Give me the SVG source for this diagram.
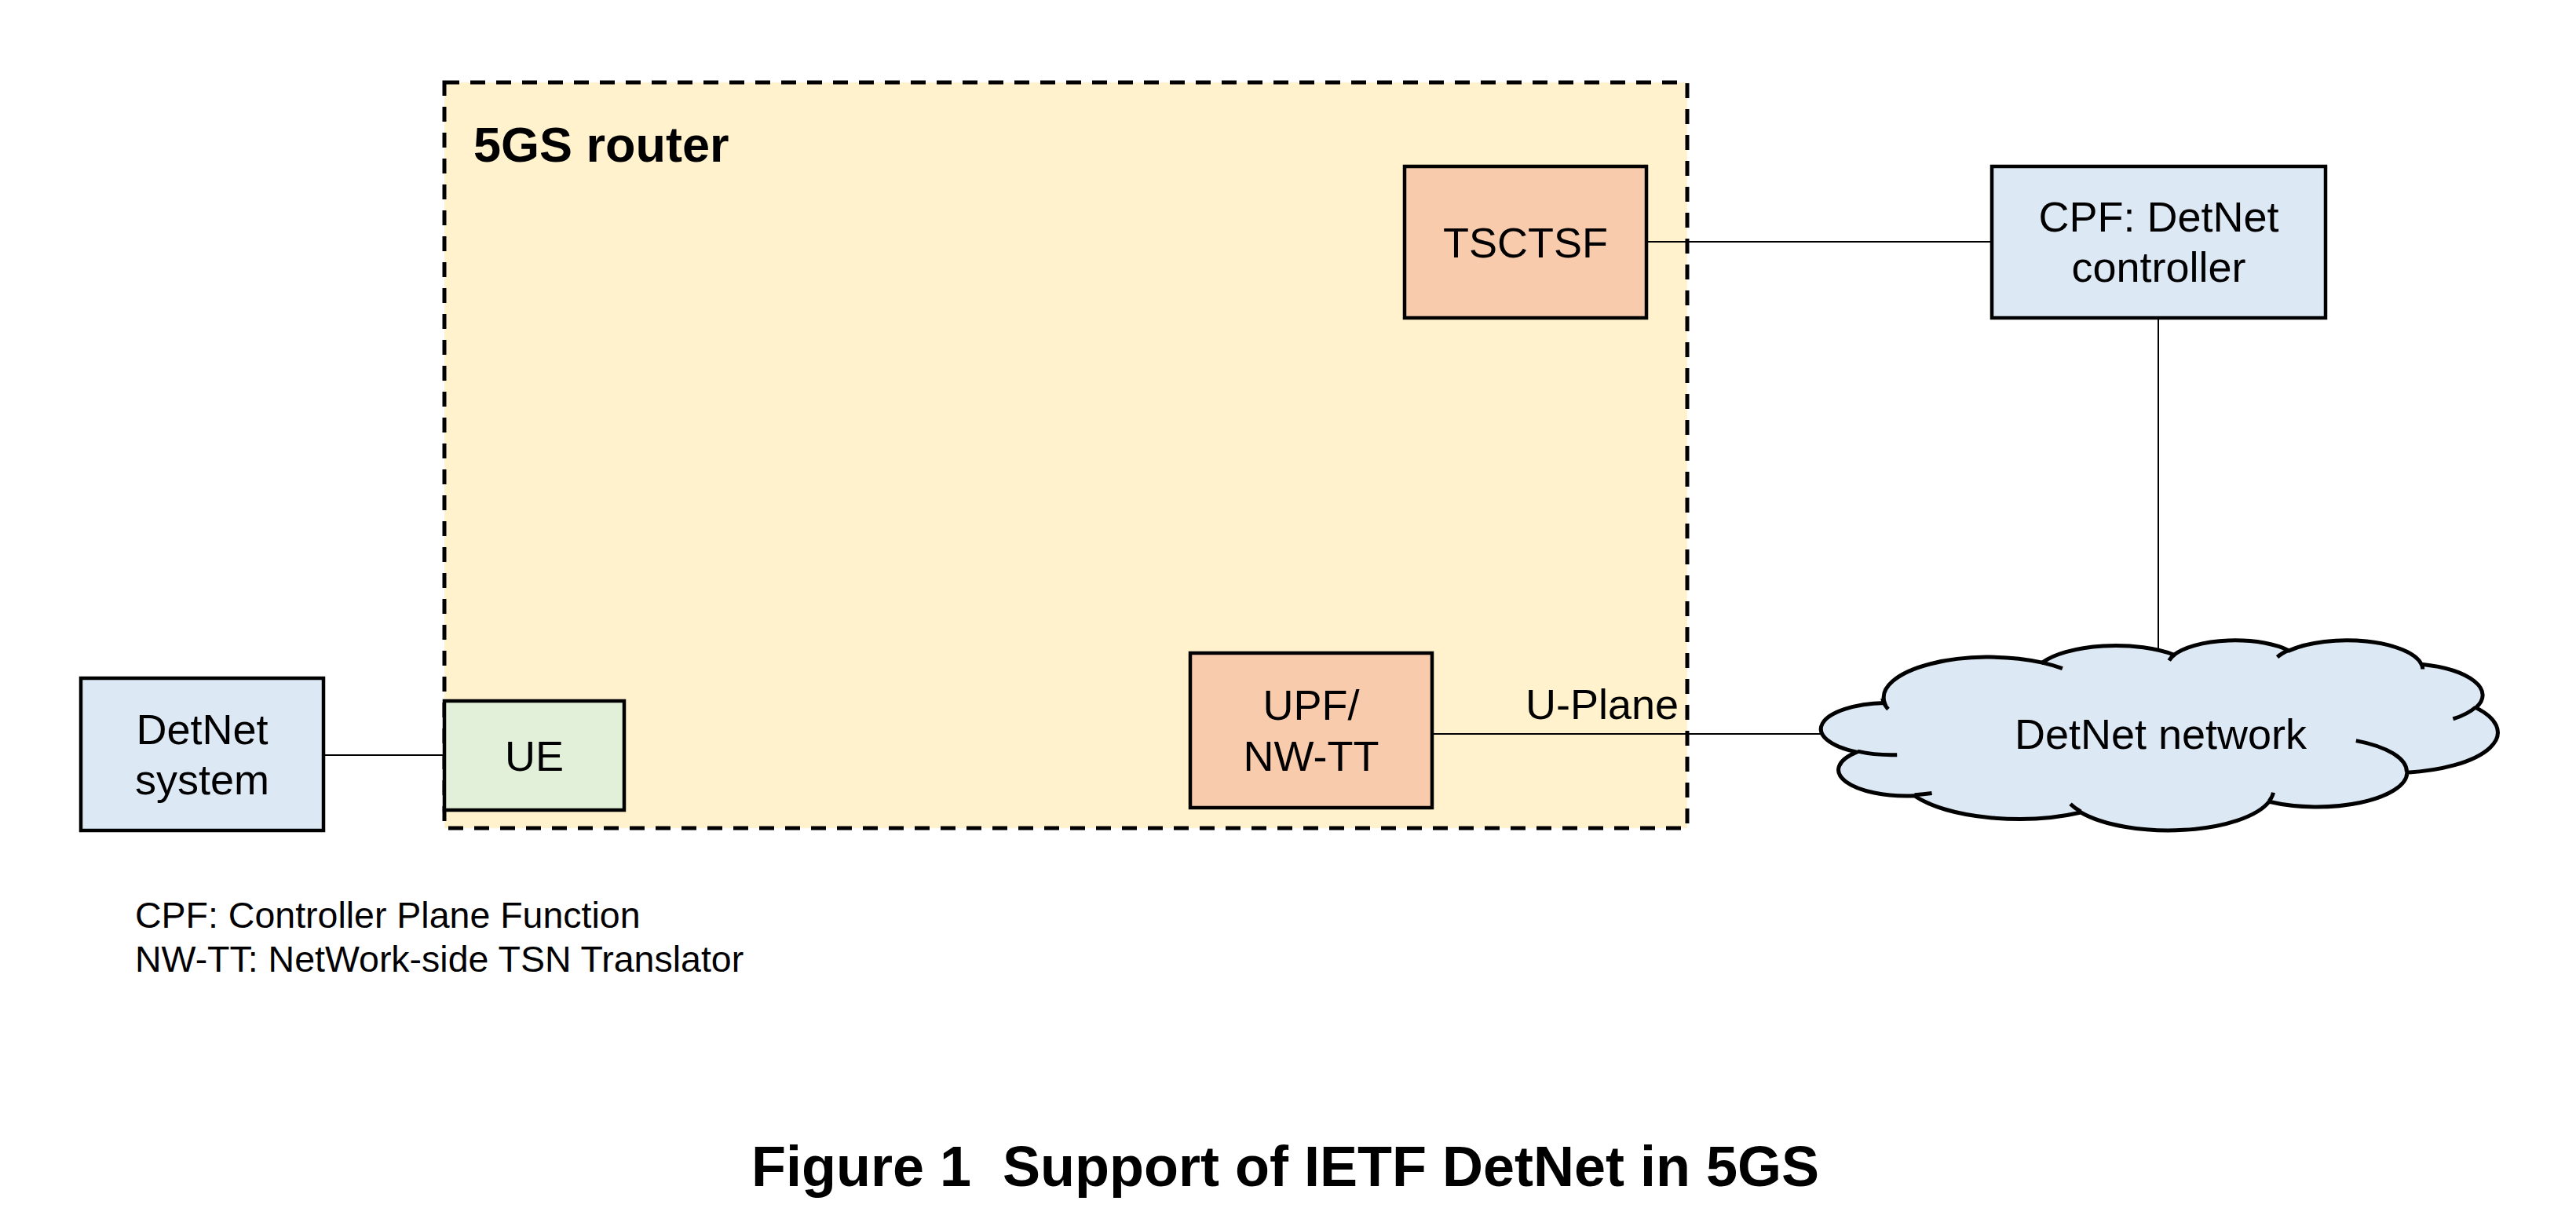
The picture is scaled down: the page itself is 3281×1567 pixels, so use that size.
<svg xmlns="http://www.w3.org/2000/svg" width="3281" height="1567" viewBox="0 0 3281 1567">
<style>
text{font-family:"Liberation Sans",Arial,Helvetica,sans-serif;fill:#000}
.lbl{font-size:54px;text-anchor:middle}
.box{stroke:#000;stroke-width:4.5}
.blue{fill:#dde8f5}
.peach{fill:#f8cbad}
.green{fill:#e2efd9}
.conn{stroke:#000;stroke-width:2;fill:none}
.cl{stroke:#000;stroke-width:5;vector-effect:non-scaling-stroke}
.leg{font-size:46.5px}
</style>
<rect x="0" y="0" width="3281" height="1567" fill="#fff"/>
<g id="router">
<rect x="566" y="105" width="1583" height="950" fill="#fff2cc" stroke="#000" stroke-width="5" stroke-dasharray="19 14"/>
<text x="603" y="206" style="font-size:63px;font-weight:bold">5GS router</text>
</g>
<g id="connectors">
<line class="conn" x1="412" y1="962" x2="566" y2="962"/>
<line class="conn" x1="2097" y1="308" x2="2537" y2="308"/>
<line class="conn" x1="1824" y1="935" x2="2324" y2="935"/>
<line class="conn" x1="2749" y1="405" x2="2749" y2="828"/>
<text x="2138" y="916" style="font-size:54px;text-anchor:end">U-Plane</text>
</g>
<g id="tsctsf">
<rect class="box peach" x="1789" y="212" width="308" height="193"/>
<text class="lbl" x="1943" y="328">TSCTSF</text>
</g>
<g id="cpf">
<rect class="box blue" x="2537" y="212" width="425" height="193"/>
<text class="lbl" x="2749.5" y="295">CPF: DetNet</text>
<text class="lbl" x="2749.5" y="359">controller</text>
</g>
<g id="detnet-system">
<rect class="box blue" x="103" y="864" width="309" height="194"/>
<text class="lbl" x="257.5" y="948">DetNet</text>
<text class="lbl" x="257.5" y="1012">system</text>
</g>
<g id="ue">
<rect class="box green" x="566" y="893" width="229" height="139"/>
<text class="lbl" x="680.5" y="982">UE</text>
</g>
<g id="upf">
<rect class="box peach" x="1516" y="832" width="308" height="197"/>
<text class="lbl" x="1670" y="917">UPF/</text>
<text class="lbl" x="1670" y="982">NW-TT</text>
</g>
<g id="detnet-network">
<g transform="translate(2323,815) scale(0.019861,0.005602)">
<path class="cl blue" d="M3900 14370 A6753 9190 0 0 1 14005 5202 A5333 7267 0 0 1 22456 3432 A4365 5945 0 0 1 29834 2481 A4857 6595 0 0 1 38319 5577 A5333 7273 0 0 1 41819 15461 A6775 9220 0 0 1 37404 30203 A5785 7867 0 0 1 28556 36813 A6752 9215 0 0 1 16480 39265 A7720 10543 0 0 1 5804 35470 A4360 5918 0 0 1 2112 25549 A4345 5945 0 0 1 3900 14370 Z"/>
<path class="cl" fill="none" d="M4693 26177 A4345 5945 0 0 1 2160 25380 M6928 34899 A4360 5918 0 0 1 5819 35281 M16478 39090 A6752 9215 0 0 1 15810 37348 M28827 34751 A6752 9215 0 0 1 28560 36660 M34129 22954 A5785 7867 0 0 1 37381 30090 M41798 15354 A5333 7273 0 0 1 40350 18029 M38324 5426 A4857 6595 0 0 1 38400 6690 M29078 3952 A4857 6595 0 0 1 29820 2339 M22141 4720 A4365 5945 0 0 1 22500 3331 M14000 5192 A6753 9190 0 0 1 15300 6540 M4127 15789 A6753 9190 0 0 1 3764 13311"/>
</g>
<text class="lbl" x="2752" y="954">DetNet network</text>
</g>
<g id="legend">
<text class="leg" x="172" y="1182">CPF: Controller Plane Function</text>
<text class="leg" x="172" y="1238">NW-TT: NetWork-side TSN Translator</text>
</g>
<text id="caption" x="957" y="1511" style="font-size:72px;font-weight:bold;white-space:pre" xml:space="preserve">Figure 1  Support of IETF DetNet in 5GS</text>
</svg>
